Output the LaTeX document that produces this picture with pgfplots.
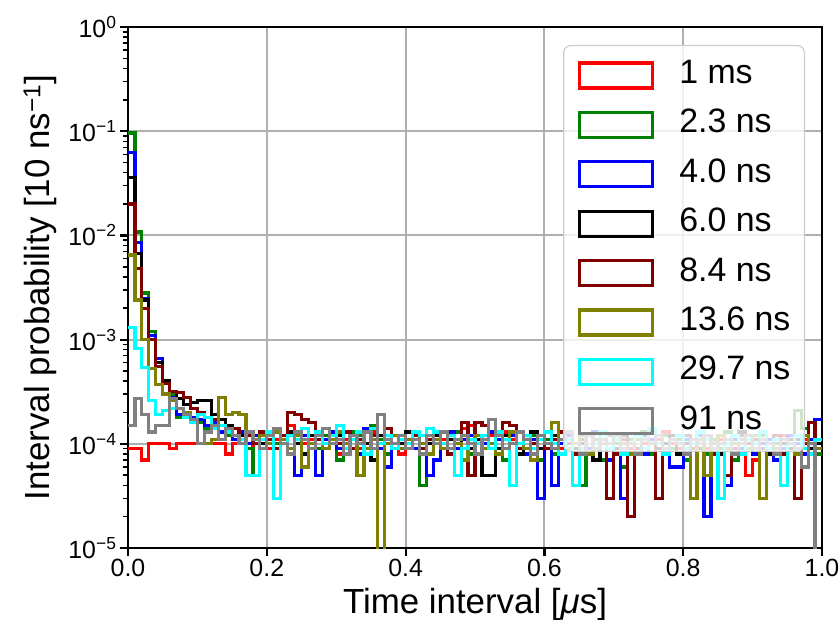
\documentclass[border=0pt]{standalone}
\usepackage{fontspec}
\setmainfont{Liberation Sans}
\usepackage{pgfplots}
\usepackage{pgfplotstable}
\pgfplotsset{compat=1.18}

\definecolor{histred}{RGB}{255,0,0}
\definecolor{histgreen}{RGB}{0,128,0}
\definecolor{histblue}{RGB}{0,0,255}
\definecolor{histmaroon}{RGB}{128,0,0}
\definecolor{histolive}{RGB}{128,128,0}
\definecolor{histcyan}{RGB}{0,255,255}
\definecolor{histgray}{RGB}{128,128,128}
\definecolor{gridgray}{RGB}{176,176,176}
\definecolor{framegray}{RGB}{204,204,204}

\newcommand\tickfont{\fontsize{25}{30}\selectfont}
\newcommand\labfont{\fontsize{35}{42}\selectfont}
\newcommand\legfont{\fontsize{34}{40}\selectfont}

% interval histograms, 10 ns bins (left edges in us); last row closes the final bin
\pgfplotstableread{
x r g b k m o c a
0.00 9e-5 9600e-5 6300e-5 3600e-5 2000e-5 650e-5 130e-5 15e-5
0.01 9e-5 1080e-5 860e-5 670e-5 480e-5 240e-5 82e-5 27e-5
0.02 7e-5 280e-5 250e-5 240e-5 200e-5 100e-5 54e-5 19e-5
0.03 10e-5 120e-5 110e-5 100e-5 100e-5 53e-5 26e-5 13e-5
0.04 10e-5 60e-5 66e-5 60e-5 55e-5 37e-5 19e-5 15e-5
0.05 10e-5 40e-5 40e-5 40e-5 38e-5 30e-5 21e-5 15e-5
0.06 9e-5 30e-5 28e-5 32e-5 32e-5 26e-5 22e-5 27e-5
0.07 10e-5 18e-5 19e-5 27e-5 31e-5 22e-5 22e-5 22e-5
0.08 10e-5 20e-5 20e-5 24e-5 28e-5 20e-5 18e-5 19e-5
0.09 10e-5 17e-5 18e-5 25e-5 22e-5 17e-5 16e-5 17e-5
0.10 10e-5 16e-5 17e-5 26e-5 20e-5 10e-5 19e-5 10e-5
0.11 10e-5 14e-5 15e-5 26e-5 18e-5 10e-5 18e-5 13e-5
0.12 10e-5 17e-5 16e-5 19e-5 17e-5 11e-5 14e-5 15e-5
0.13 10e-5 13e-5 13e-5 17e-5 15e-5 28e-5 15e-5 11e-5
0.14 8e-5 12e-5 14e-5 15e-5 13e-5 19e-5 13e-5 14e-5
0.15 10e-5 14e-5 11e-5 14e-5 14e-5 20e-5 12e-5 12e-5
0.16 11e-5 11e-5 13e-5 12e-5 11e-5 19e-5 11e-5 10e-5
0.17 9e-5 9e-5 10e-5 13e-5 12e-5 13e-5 5e-5 13e-5
0.18 10e-5 5e-5 12e-5 11e-5 10e-5 11e-5 5e-5 11e-5
0.19 12e-5 12e-5 9e-5 10e-5 13e-5 12e-5 11e-5 9e-5
0.20 9e-5 13e-5 11e-5 12e-5 11e-5 10e-5 13e-5 12e-5
0.21 11e-5 10e-5 13e-5 9e-5 9e-5 13e-5 3e-5 14e-5
0.22 12e-5 12e-5 10e-5 11e-5 12e-5 11e-5 10e-5 10e-5
0.23 15e-5 8e-5 8e-5 13e-5 20e-5 9e-5 12e-5 8e-5
0.24 13e-5 11e-5 5e-5 10e-5 19e-5 12e-5 11e-5 13e-5
0.25 10e-5 14e-5 12e-5 8e-5 17e-5 6e-5 14e-5 11e-5
0.26 11e-5 10e-5 10e-5 12e-5 16e-5 10e-5 9e-5 9e-5
0.27 9e-5 9e-5 5e-5 11e-5 11e-5 12e-5 13e-5 12e-5
0.28 12e-5 12e-5 11e-5 9e-5 9e-5 9e-5 10e-5 14e-5
0.29 10e-5 11e-5 13e-5 10e-5 12e-5 11e-5 12e-5 10e-5
0.30 8e-5 7e-5 9e-5 12e-5 10e-5 13e-5 15e-5 11e-5
0.31 11e-5 10e-5 10e-5 8e-5 13e-5 10e-5 9e-5 8e-5
0.32 12e-5 13e-5 12e-5 11e-5 9e-5 12e-5 11e-5 12e-5
0.33 9e-5 12e-5 8e-5 13e-5 11e-5 5e-5 13e-5 10e-5
0.34 10e-5 9e-5 14e-5 10e-5 8e-5 9e-5 8e-5 13e-5
0.35 13e-5 15e-5 11e-5 7e-5 12e-5 11e-5 14e-5 9e-5
0.36 9e-5 11e-5 9e-5 12e-5 10e-5 1e-7 10e-5 19e-5
0.37 11e-5 8e-5 6e-5 11e-5 14e-5 10e-5 12e-5 11e-5
0.38 10e-5 12e-5 12e-5 9e-5 9e-5 12e-5 9e-5 10e-5
0.39 8e-5 10e-5 10e-5 10e-5 11e-5 9e-5 11e-5 12e-5
0.40 11e-5 9e-5 11e-5 13e-5 10e-5 11e-5 10e-5 9e-5
0.41 12e-5 11e-5 9e-5 11e-5 12e-5 13e-5 13e-5 11e-5
0.42 9e-5 4e-5 12e-5 8e-5 9e-5 10e-5 12e-5 8e-5
0.43 10e-5 8e-5 5e-5 10e-5 11e-5 8e-5 14e-5 12e-5
0.44 12e-5 12e-5 7e-5 12e-5 13e-5 11e-5 13e-5 10e-5
0.45 11e-5 10e-5 10e-5 9e-5 10e-5 9e-5 10e-5 13e-5
0.46 9e-5 9e-5 13e-5 11e-5 8e-5 12e-5 12e-5 9e-5
0.47 13e-5 13e-5 9e-5 10e-5 11e-5 10e-5 5e-5 11e-5
0.48 14e-5 11e-5 11e-5 12e-5 16e-5 7e-5 9e-5 12e-5
0.49 15e-5 8e-5 12e-5 9e-5 5e-5 11e-5 11e-5 10e-5
0.50 11e-5 10e-5 8e-5 11e-5 16e-5 12e-5 10e-5 8e-5
0.51 10e-5 12e-5 10e-5 5e-5 15e-5 9e-5 12e-5 11e-5
0.52 12e-5 9e-5 13e-5 5e-5 10e-5 10e-5 9e-5 17e-5
0.53 9e-5 11e-5 11e-5 9e-5 12e-5 8e-5 13e-5 12e-5
0.54 13e-5 7e-5 9e-5 12e-5 16e-5 11e-5 11e-5 9e-5
0.55 11e-5 10e-5 12e-5 10e-5 15e-5 13e-5 4e-5 10e-5
0.56 10e-5 13e-5 10e-5 8e-5 9e-5 10e-5 10e-5 13e-5
0.57 12e-5 9e-5 8e-5 11e-5 11e-5 9e-5 12e-5 11e-5
0.58 9e-5 12e-5 11e-5 13e-5 10e-5 7e-5 9e-5 8e-5
0.59 11e-5 7e-5 3e-5 9e-5 12e-5 12e-5 11e-5 12e-5
0.60 10e-5 11e-5 9e-5 10e-5 9e-5 10e-5 13e-5 10e-5
0.61 12e-5 8e-5 4e-5 12e-5 11e-5 16e-5 10e-5 9e-5
0.62 9e-5 10e-5 10e-5 8e-5 13e-5 11e-5 8e-5 11e-5
0.63 11e-5 12e-5 12e-5 11e-5 10e-5 9e-5 11e-5 13e-5
0.64 10e-5 9e-5 8e-5 9e-5 8e-5 10e-5 4e-5 10e-5
0.65 8e-5 4e-5 11e-5 10e-5 11e-5 12e-5 9e-5 8e-5
0.66 12e-5 9e-5 9e-5 12e-5 12e-5 8e-5 12e-5 12e-5
0.67 10e-5 11e-5 13e-5 7e-5 9e-5 11e-5 10e-5 9e-5
0.68 11e-5 7e-5 10e-5 11e-5 10e-5 10e-5 13e-5 11e-5
0.69 9e-5 12e-5 7e-5 10e-5 3e-5 9e-5 9e-5 10e-5
0.70 10e-5 10e-5 9e-5 9e-5 8e-5 12e-5 11e-5 12e-5
0.71 12e-5 6e-5 3e-5 12e-5 11e-5 10e-5 8e-5 9e-5
0.72 9e-5 11e-5 10e-5 10e-5 2e-5 8e-5 10e-5 10e-5
0.73 11e-5 9e-5 12e-5 8e-5 9e-5 11e-5 12e-5 8e-5
0.74 10e-5 13e-5 8e-5 11e-5 12e-5 9e-5 9e-5 11e-5
0.75 8e-5 8e-5 11e-5 13e-5 10e-5 10e-5 14e-5 10e-5
0.76 11e-5 10e-5 9e-5 9e-5 3e-5 12e-5 10e-5 12e-5
0.77 13e-5 12e-5 10e-5 10e-5 9e-5 9e-5 8e-5 9e-5
0.78 10e-5 9e-5 6e-5 12e-5 11e-5 11e-5 11e-5 11e-5
0.79 9e-5 11e-5 6e-5 8e-5 10e-5 10e-5 12e-5 10e-5
0.80 11e-5 7e-5 11e-5 10e-5 12e-5 9e-5 9e-5 8e-5
0.81 10e-5 10e-5 9e-5 11e-5 9e-5 3e-5 10e-5 11e-5
0.82 12e-5 12e-5 12e-5 9e-5 10e-5 11e-5 13e-5 10e-5
0.83 9e-5 8e-5 2e-5 12e-5 11e-5 5e-5 11e-5 12e-5
0.84 10e-5 11e-5 8e-5 10e-5 8e-5 10e-5 9e-5 9e-5
0.85 11e-5 9e-5 10e-5 8e-5 10e-5 12e-5 3e-5 10e-5
0.86 9e-5 13e-5 4e-5 11e-5 5e-5 9e-5 10e-5 11e-5
0.87 12e-5 7e-5 11e-5 9e-5 9e-5 10e-5 12e-5 8e-5
0.88 8e-5 10e-5 9e-5 13e-5 12e-5 11e-5 8e-5 10e-5
0.89 5e-5 11e-5 12e-5 10e-5 10e-5 9e-5 11e-5 12e-5
0.90 7e-5 9e-5 8e-5 9e-5 11e-5 12e-5 10e-5 9e-5
0.91 10e-5 12e-5 10e-5 11e-5 9e-5 3e-5 13e-5 11e-5
0.92 11e-5 8e-5 11e-5 8e-5 10e-5 10e-5 9e-5 10e-5
0.93 9e-5 10e-5 7e-5 12e-5 12e-5 9e-5 11e-5 8e-5
0.94 12e-5 11e-5 9e-5 10e-5 8e-5 11e-5 4e-5 11e-5
0.95 10e-5 9e-5 12e-5 9e-5 11e-5 10e-5 10e-5 10e-5
0.96 8e-5 21e-5 10e-5 11e-5 3e-5 8e-5 12e-5 9e-5
0.97 11e-5 14e-5 8e-5 12e-5 10e-5 12e-5 9e-5 6e-5
0.98 10e-5 10e-5 11e-5 9e-5 16e-5 10e-5 8e-5 10e-5
0.99 9e-5 8e-5 17e-5 10e-5 11e-5 9e-5 11e-5 1e-7
1.00 9e-5 8e-5 17e-5 10e-5 11e-5 9e-5 11e-5 1e-7
}\hist

\begin{document}
\begin{tikzpicture}
\begin{axis}[
  scale only axis,
  width=694bp, height=521bp,
  ymode=log,
  xmin=0, xmax=1, ymin=1e-5, ymax=1,
  enlargelimits=false,
  xtick={0,0.2,0.4,0.6,0.8,1},
  xticklabels={0.0,0.2,0.4,0.6,0.8,1.0},
  ytick={1e-5,1e-4,1e-3,1e-2,1e-1,1},
  yticklabels={10\textsuperscript{−5},10\textsuperscript{−4},10\textsuperscript{−3},10\textsuperscript{−2},10\textsuperscript{−1},10\textsuperscript{0}},
  tick align=outside,
  xtick pos=bottom, ytick pos=left,
  major tick length=8bp, minor tick length=4.5bp,
  every major tick/.append style={black, line width=2.2bp},
  every minor tick/.append style={black, line width=1.5bp},
  axis line style={line width=2.4bp},
  grid=major,
  major grid style={color=gridgray, line width=2bp},
  ticklabel style={font=\tickfont},
  xlabel={Time interval [\textit{μ}s]},
  ylabel={Interval probability [10 ns\textsuperscript{−1}]},
  label style={font=\labfont},
  xlabel style={at={(axis description cs:0.5,-0.1075)}, anchor=center},
  ylabel style={at={(axis description cs:-0.1268,0.5)}, anchor=center},
  every axis plot/.append style={const plot mark left, line width=3.2bp, line join=miter, mark=none},
  legend cell align=left,
  legend image code/.code={
    \draw[#1, sharp corners, line width=3.2bp] (0bp,-12.5bp) rectangle (73bp,12.5bp);
    \path[draw=none, fill=none] (0bp,0bp) -- (100bp,0bp);
  },
  legend style={
    at={(rel axis cs:0.9755,0.9655)}, anchor=north east,
    font=\legfont,
    fill=white, fill opacity=0.8, text opacity=1, draw opacity=1,
    draw=framegray, line width=1.2bp, rounded corners=7bp,
    inner xsep=14bp, inner ysep=12bp, row sep=13.4bp,
    nodes={inner sep=0pt, text height=26bp, text depth=10bp},
  },
]
\addplot[histred]    table[x=x, y=r] {\hist};
\addplot[histgreen]  table[x=x, y=g] {\hist};
\addplot[histblue]   table[x=x, y=b] {\hist};
\addplot[black]      table[x=x, y=k] {\hist};
\addplot[histmaroon] table[x=x, y=m] {\hist};
\addplot[histolive]  table[x=x, y=o] {\hist};
\addplot[histcyan]   table[x=x, y=c] {\hist};
\addplot[histgray]   table[x=x, y=a] {\hist};
\legend{1 ms, 2.3 ns, 4.0 ns, 6.0 ns, 8.4 ns, 13.6 ns, 29.7 ns, 91 ns}
\end{axis}
\pgfresetboundingbox
\path[use as bounding box] (-128bp,-72bp) rectangle (712bp,548bp);
\end{tikzpicture}
\end{document}
